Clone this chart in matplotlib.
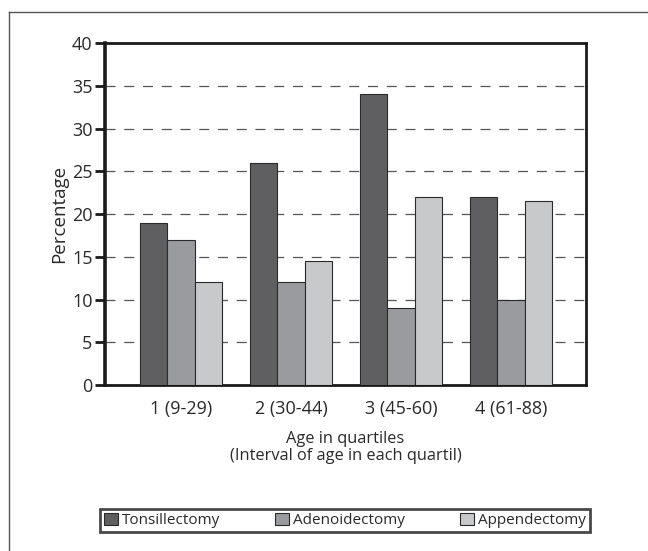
import matplotlib
matplotlib.use("Agg")
import matplotlib.pyplot as plt
import numpy as np
from matplotlib.lines import Line2D

plt.rcParams['font.family'] = ['Open Sans', 'DejaVu Sans']

groups = ['1 (9-29)', '2 (30-44)', '3 (45-60)', '4 (61-88)']
series = ['Tonsillectomy', 'Adenoidectomy', 'Appendectomy']
tonsil = [19, 26, 34, 22]
adeno = [17, 12, 9, 10]
append = [12, 14.5, 22, 21.5]
colors = ['#5f5f61', '#9a9b9e', '#c8c9cb']

fig = plt.figure(figsize=(6.48, 5.51), dpi=100)
ax = fig.add_axes([0.162, 0.301, 0.742, 0.621])

x = np.arange(len(groups))
w = 0.25
for i, (vals, lab) in enumerate(zip([tonsil, adeno, append], series)):
    ax.bar(x + (i - 1) * w, vals, width=w, color=colors[i], edgecolor='#2a2a2a',
           linewidth=0.8, label=lab, zorder=3)

ax.set_xlim(-0.69, 3.68)
ax.set_ylim(0, 40)
ax.set_yticks(range(0, 41, 5))
ax.set_xticks(x)
ax.set_xticklabels(groups)
ax.tick_params(axis='x', length=0, labelsize=13, labelcolor='#2a2a2a', pad=11)
ax.tick_params(axis='y', length=7, width=2, color='#1a1a1a', labelsize=13,
               labelcolor='#2a2a2a', pad=2)
for y in range(5, 40, 5):
    ax.axhline(y, color='#555555', lw=0.9, ls=(0, (8, 7)), zorder=1)
for s in ax.spines.values():
    s.set_linewidth(2)
    s.set_color('#1a1a1a')
ax.spines['left'].set_linewidth(2.6)

ax.set_ylabel('Percentage', fontsize=13.5, color='#2a2a2a', labelpad=3)
ax.set_xlabel('Age in quartiles\n(Interval of age in each quartil)', fontsize=11.8,
              color='#2a2a2a', labelpad=9, linespacing=1.05)

leg = fig.legend(loc='lower left', bbox_to_anchor=(100 / 648, 1 - 532 / 551, 490 / 648, 30 / 551),
                 mode='expand', ncol=3, fontsize=11, frameon=True, fancybox=False,
                 handlelength=0.9, handleheight=0.9, handletextpad=0.3, borderpad=0.25,
                 borderaxespad=0)
leg.get_frame().set_edgecolor('#1a1a1a')
leg.get_frame().set_linewidth(2)
for t in leg.get_texts():
    t.set_color('#2a2a2a')

# outer frame (top and left edges visible)
fig.add_artist(Line2D([9 / 648, 9 / 648], [0, 1 - 12 / 551], transform=fig.transFigure,
                      color='#555555', lw=1))
fig.add_artist(Line2D([9 / 648, 1], [1 - 12 / 551, 1 - 12 / 551], transform=fig.transFigure,
                      color='#555555', lw=1))

fig.savefig('out.png', dpi=100)
